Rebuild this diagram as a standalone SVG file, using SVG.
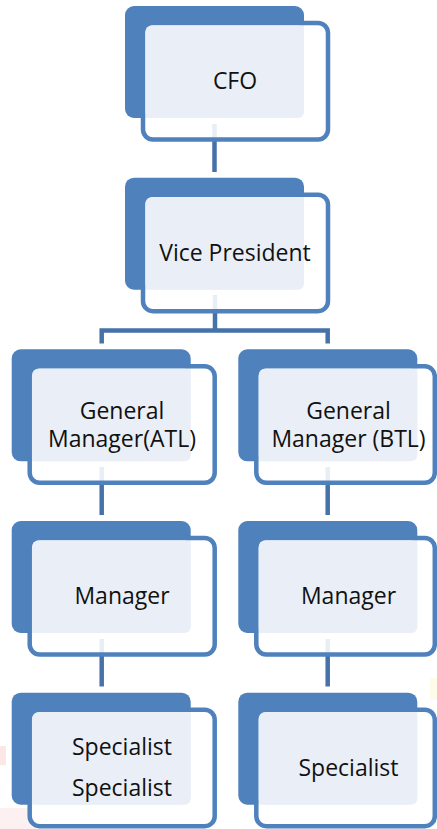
<svg xmlns="http://www.w3.org/2000/svg" width="437" height="829" viewBox="0 0 437 829">
<style>
.back{fill:#4F81BD}
.frame{fill:#FFFFFF;fill-opacity:0.88;stroke:#4F81BD;stroke-width:4.5}
.face{fill:#EAEFF7}
.lbl{font-family:"Open Sans","Liberation Sans",sans-serif;font-size:23px;fill:#111111;text-anchor:middle}
.conn{stroke:#4672AA;stroke-width:4.5;fill:none}
</style>
<rect width="437" height="829" fill="#FFFFFF"/>
<g id="watermark" opacity="0.4">
<rect x="0" y="746" width="6" height="19" fill="#F6C4C4"/>
<rect x="0" y="808" width="40" height="21" fill="#FADADA"/>
<rect x="430" y="678" width="7" height="22" fill="#FFF4C8"/>
</g>
<g id="connectors">
<line class="conn" x1="214.5" y1="124" x2="214.5" y2="172"/>
<polyline class="conn" points="215,295 215,330.5"/>
<polyline class="conn" points="101.7,343.5 101.7,330.5 327.7,330.5 327.7,343.5"/>
<line class="conn" x1="101.7" y1="467" x2="101.7" y2="515"/>
<line class="conn" x1="327.7" y1="467" x2="327.7" y2="515"/>
<line class="conn" x1="101.7" y1="639" x2="101.7" y2="686.5"/>
<line class="conn" x1="327.7" y1="639" x2="327.7" y2="686.5"/>
</g>
<g id="cfo">
<rect class="back" x="125" y="6" width="179" height="112" rx="9"/>
<rect class="frame" x="143" y="23" width="185" height="116.5" rx="10"/>
<rect class="face" x="145.5" y="25.5" width="158.5" height="92.5" rx="6"/>
<text class="lbl" x="235" y="89.3">CFO</text>
</g>
<g id="vp">
<rect class="back" x="125" y="177.7" width="179" height="112" rx="9"/>
<rect class="frame" x="143" y="194.7" width="185" height="116.5" rx="10"/>
<rect class="face" x="145.5" y="197.2" width="158.5" height="92.5" rx="6"/>
<text class="lbl" x="235" y="261">Vice President</text>
</g>
<g id="gm-atl">
<rect class="back" x="11.7" y="349.3" width="179" height="112" rx="9"/>
<rect class="frame" x="29.7" y="366.3" width="185" height="116.5" rx="10"/>
<rect class="face" x="32.2" y="368.8" width="158.5" height="92.5" rx="6"/>
<text class="lbl" x="122" y="418.5">General<tspan x="122" y="447">Manager(ATL)</tspan></text>
</g>
<g id="gm-btl">
<rect class="back" x="238.3" y="349.3" width="179" height="112" rx="9"/>
<rect class="frame" x="256.3" y="366.3" width="178.5" height="116.5" rx="10"/>
<rect class="face" x="258.8" y="368.8" width="158.5" height="92.5" rx="6"/>
<text class="lbl" x="348.5" y="418.5">General<tspan x="348.5" y="447">Manager (BTL)</tspan></text>
</g>
<g id="mgr-atl">
<rect class="back" x="11.7" y="521" width="179" height="112" rx="9"/>
<rect class="frame" x="29.7" y="538" width="185" height="116.5" rx="10"/>
<rect class="face" x="32.2" y="540.5" width="158.5" height="92.5" rx="6"/>
<text class="lbl" x="122" y="604.3">Manager</text>
</g>
<g id="mgr-btl">
<rect class="back" x="238.3" y="521" width="179" height="112" rx="9"/>
<rect class="frame" x="256.3" y="538" width="178.5" height="116.5" rx="10"/>
<rect class="face" x="258.8" y="540.5" width="158.5" height="92.5" rx="6"/>
<text class="lbl" x="348.5" y="604.3">Manager</text>
</g>
<g id="spec-atl">
<rect class="back" x="11.7" y="692.7" width="179" height="112" rx="9"/>
<rect class="frame" x="29.7" y="709.7" width="185" height="116.5" rx="10"/>
<rect class="face" x="32.2" y="712.2" width="158.5" height="92.5" rx="6"/>
<text class="lbl" x="122" y="755.3">Specialist</text>
<text class="lbl" x="122" y="795.8">Specialist</text>
</g>
<g id="spec-btl">
<rect class="back" x="238.3" y="692.7" width="179" height="112" rx="9"/>
<rect class="frame" x="256.3" y="709.7" width="178.5" height="116.5" rx="10"/>
<rect class="face" x="258.8" y="712.2" width="158.5" height="92.5" rx="6"/>
<text class="lbl" x="348.5" y="776">Specialist</text>
</g>
</svg>
